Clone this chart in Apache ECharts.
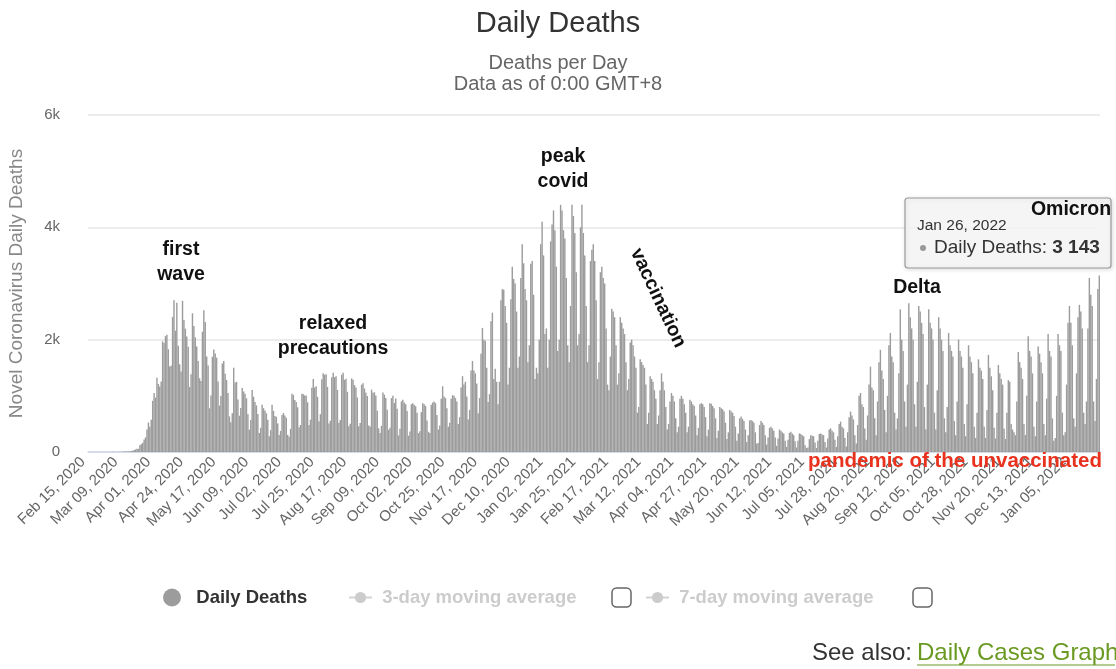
<!DOCTYPE html>
<html>
<head>
<meta charset="utf-8">
<script src="https://cdn.jsdelivr.net/npm/echarts@6/dist/echarts.min.js"></script>
<style>
html,body{margin:0;padding:0;background:#fff;}
#chart{width:1116px;height:669px;}
</style>
</head>
<body>
<div id="chart"></div>
<script>
// ---- data ----
const startDate = '2020-02-15';
const dayCount = 712;
const yTicks = [0, 2000, 4000, 6000];
const seriesNames = ['Daily Deaths', '3-day moving average', '7-day moving average'];
// daily deaths, one line per week (Sat..Fri)
const dailyDeaths = [
0,0,0,0,0,0,0,
0,0,0,0,0,0,0,
1,0,1,4,1,1,1,
3,2,4,6,7,10,11,
11,10,18,24,35,45,58,
56,118,139,163,223,261,401,
525,448,573,912,1049,968,1320,
1212,1165,1253,1970,1939,2063,2087,
1830,1523,1535,2405,2702,2159,2659,
1891,1561,1433,2692,2350,2196,2058,
1876,1157,1383,2470,2245,2040,1879,
1622,1313,1262,2142,2524,2315,1700,
1538,777,1005,1697,1823,1754,1680,
1255,827,997,1575,1621,1395,1282,
1050,634,530,689,1501,1236,1249,
933,646,784,1140,1078,1036,957,
672,397,570,1103,985,892,830,
678,339,431,842,780,738,689,
576,282,390,841,733,640,627,
506,304,375,658,696,651,612,
304,270,412,1038,1016,927,891,
796,442,481,1037,1028,1005,1006,
884,479,576,1144,1300,1147,1170,
982,547,674,1297,1404,1374,1385,
1160,508,557,1329,1413,1332,1348,
1104,520,570,1377,1410,1285,1303,
1072,460,503,1310,1288,1191,1148,
971,458,517,1198,1224,1131,1053,
996,470,455,1110,1056,1063,1006,
735,421,340,466,1060,1020,960,
754,395,432,960,1000,874,954,
771,294,415,900,930,880,850,
730,290,366,850,870,840,815,
700,335,370,710,870,850,820,
560,360,340,840,880,900,870,
660,400,470,950,1170,990,960,
780,450,520,950,1010,1000,960,
900,500,620,1150,1350,1200,1250,
990,580,750,1450,1620,1450,1400,
1220,690,960,1750,2210,2000,1980,
1500,890,1030,2330,2480,1300,1480,
1250,850,1250,2700,2900,2890,2600,
2300,1200,1500,2720,3300,3080,3000,
2500,1500,1700,3100,3700,3360,2900,
2700,1600,1900,3350,3400,2800,1300,
1500,1400,2000,3700,4100,3500,2100,
2200,1500,2000,3750,4050,4300,3950,
3300,1800,2000,4400,4300,3950,3800,
3100,1900,1600,2600,4400,4200,3900,
3200,1900,2100,4000,4400,3900,3500,
2600,1600,1900,3400,3600,3700,3400,
2700,1300,1600,3200,3300,3100,3000,
2200,1200,1100,1700,2550,2500,2400,
1900,1200,1400,2400,2300,2200,2100,
1600,1100,1300,1950,2000,1900,1700,
1500,700,800,1650,1600,1550,1500,
1200,500,700,1350,1300,1250,1100,
950,500,650,1100,1400,1250,1100,
800,400,500,900,1050,1000,900,
600,350,450,950,1000,950,850,
700,350,450,930,900,850,820,
650,300,430,850,870,850,800,
620,280,400,870,860,820,780,
600,250,380,800,780,760,720,
520,230,350,750,720,700,640,
450,200,330,600,630,590,550,
400,180,300,560,570,550,520,
350,150,160,480,550,520,480,
300,130,260,430,450,420,380,
260,110,240,400,380,350,330,
200,90,220,340,360,330,300,
190,80,200,330,320,300,280,
120,70,80,230,300,290,280,
170,70,200,320,330,310,300,
180,80,240,400,420,380,350,
220,90,280,500,540,450,420,
250,100,350,620,720,650,580,
300,150,480,1000,1050,850,800,
420,220,650,1200,1520,1150,1100,
600,300,900,1600,1820,1450,1300,
750,350,1000,1900,2120,1700,1600,
700,400,600,1400,2540,2000,1800,
900,450,1200,2650,2400,2200,2000,
850,450,1250,2600,2500,2300,2100,
800,400,1200,2540,2300,2200,2000,
700,400,1100,2400,2200,2000,1800,
600,350,800,2120,1900,1800,1700,
550,300,900,2000,1800,1700,1500,
500,280,850,1900,1700,1600,1400,
450,250,700,1650,1500,1450,1300,
450,250,750,1730,1500,1350,1100,
430,240,700,1550,1400,1300,1200,
420,230,700,1280,1250,500,400,
350,300,900,1780,1600,1500,1300,
500,300,1000,2060,1800,1700,1400,
450,280,900,1880,1750,1600,1400,
500,300,950,2100,1800,1700,600,
200,250,1000,2100,1900,1800,700,
300,350,1200,2300,2600,2300,1900,
600,450,1400,2400,2620,2500,2200,
700,500,900,2200,3100,2800,2600,
900,550,1300,2900,3143
];
const annotations = [
  {text: 'first\nwave', x: 181, y: 262},
  {text: 'relaxed\nprecautions', x: 333, y: 336},
  {text: 'peak\ncovid', x: 563, y: 169},
  {text: 'Delta', x: 917, y: 288},
  {text: 'Omicron', x: 1071, y: 210}
];

// ---- categories ----
const months = ['Jan','Feb','Mar','Apr','May','Jun','Jul','Aug','Sep','Oct','Nov','Dec'];
const categories = [];
const d0 = new Date(startDate + 'T00:00:00Z');
for (let i = 0; i < dayCount; i++) {
  const d = new Date(d0.getTime() + i * 86400000);
  const dd = String(d.getUTCDate()).padStart(2, '0');
  categories.push(months[d.getUTCMonth()] + ' ' + dd + ', ' + d.getUTCFullYear());
}

const FONT = '"Liberation Sans", Arial, Helvetica, sans-serif';
const chart = echarts.init(document.getElementById('chart'));

const graphics = annotations.map(a => ({
  type: 'text', x: a.x, y: a.y, z: 100,
  style: {text: a.text, font: 'bold 19.5px ' + FONT, fill: '#111', align: 'center', verticalAlign: 'middle', lineHeight: 25}
}));
graphics.unshift({
  type: 'rect', z: 90,
  shape: {x: 905, y: 198, width: 206, height: 70, r: 3},
  style: {fill: 'rgba(247,247,247,0.9)', stroke: '#9a9a9a', lineWidth: 1.2, shadowBlur: 4, shadowColor: 'rgba(0,0,0,0.15)', shadowOffsetX: 1, shadowOffsetY: 1}
});
graphics.push(
  {type: 'text', x: 917, y: 226, z: 101, style: {text: 'Jan 26, 2022', font: '15.5px ' + FONT, fill: '#333', verticalAlign: 'middle'}},
  {type: 'circle', z: 101, shape: {cx: 923, cy: 248, r: 3}, style: {fill: '#999'}},
  {type: 'text', x: 934, y: 248, z: 101, style: {
    text: '{n|Daily Deaths: }{b|3 143}', verticalAlign: 'middle',
    rich: {n: {font: '19px ' + FONT, fill: '#333'}, b: {font: 'bold 19px ' + FONT, fill: '#333'}}}},
  {type: 'text', x: 658, y: 298, z: 100, rotation: -65 * Math.PI / 180,
    style: {text: 'vaccination', font: 'bold 19.5px ' + FONT, fill: '#111', align: 'center', verticalAlign: 'middle'}},
  {type: 'text', x: 955, y: 461, z: 100,
    style: {text: 'pandemic of the unvaccinated', font: 'bold 20.5px ' + FONT, fill: '#e8321e', align: 'center', verticalAlign: 'middle'}},
  {type: 'rect', z: 100, shape: {x: 612, y: 588, width: 19, height: 19, r: 4.5}, style: {fill: '#fff', stroke: '#666', lineWidth: 1.5}},
  {type: 'rect', z: 100, shape: {x: 913, y: 588, width: 19, height: 19, r: 4.5}, style: {fill: '#fff', stroke: '#666', lineWidth: 1.5}},
  {type: 'text', x: 912, y: 653, z: 100, style: {
    text: 'See also:', align: 'right', verticalAlign: 'middle', font: '24px ' + FONT, fill: '#333'}},
  {type: 'text', x: 917, y: 653, z: 100, style: {
    text: 'Daily Cases Graph', align: 'left', verticalAlign: 'middle', font: '24px ' + FONT, fill: '#6a9a22'}},
  {type: 'line', z: 100, shape: {x1: 917, y1: 665, x2: 1115, y2: 665}, style: {stroke: '#6a9a22', lineWidth: 1.2}}
);

const legendText = {fontSize: 18.5, fontWeight: 'bold', fontFamily: FONT, color: '#333'};
const legendSel = {'3-day moving average': false, '7-day moving average': false};

chart.setOption({
  animation: false,
  backgroundColor: '#fff',
  title: {
    text: 'Daily Deaths',
    subtext: 'Deaths per Day\nData as of 0:00 GMT+8',
    left: 'center', top: 9, itemGap: 15, padding: 0,
    textStyle: {fontSize: 29, fontWeight: 'normal', color: '#333', fontFamily: FONT},
    subtextStyle: {fontSize: 20, color: '#666', fontFamily: FONT, lineHeight: 21}
  },
  legend: [
    {data: [seriesNames[0]], left: 163, top: 588, padding: 0, icon: 'circle', itemWidth: 18, itemHeight: 18,
      formatter: '  {name}', textStyle: legendText, selected: legendSel},
    {data: [seriesNames[1]], left: 348, top: 588, padding: 0, itemWidth: 23, itemHeight: 14, inactiveColor: '#cccccc',
      formatter: ' {name}', selected: legendSel, textStyle: legendText},
    {data: [seriesNames[2]], left: 645, top: 588, padding: 0, itemWidth: 23, itemHeight: 14, inactiveColor: '#cccccc',
      formatter: ' {name}', selected: legendSel, textStyle: legendText}
  ],
  grid: {left: 88, right: 16, top: 115, bottom: 217, containLabel: false, outerBoundsMode: 'none'},
  xAxis: {
    type: 'category', data: categories, boundaryGap: true,
    axisLine: {lineStyle: {color: '#ccd6eb', width: 1.5}},
    axisTick: {show: false},
    axisLabel: {interval: 22, rotate: 45, color: '#666', fontSize: 15, fontFamily: FONT, margin: 2, padding: [0, 8, 0, 0]}
  },
  yAxis: {
    type: 'value', min: yTicks[0], max: yTicks[yTicks.length - 1], interval: yTicks[1] - yTicks[0],
    name: 'Novel Coronavirus Daily Deaths', nameLocation: 'middle', nameGap: 62,
    nameTextStyle: {color: '#888', fontSize: 19, fontFamily: FONT},
    axisLabel: {color: '#666', fontSize: 15, fontFamily: FONT, margin: 28,
      formatter: v => v === 0 ? '0' : (v / 1000) + 'k'},
    splitLine: {lineStyle: {color: '#e6e6e6', width: 1.5}},
    axisLine: {show: false}, axisTick: {show: false}
  },
  series: [
    {name: seriesNames[0], type: 'bar', data: dailyDeaths, barCategoryGap: '0%',
      itemStyle: {color: '#9c9c9c'}, emphasis: {disabled: true}},
    {name: seriesNames[1], type: 'line', data: [], symbol: 'circle', itemStyle: {color: '#bbb'}},
    {name: seriesNames[2], type: 'line', data: [], symbol: 'circle', itemStyle: {color: '#bbb'}}
  ],
  graphic: graphics
});
</script>
</body>
</html>
